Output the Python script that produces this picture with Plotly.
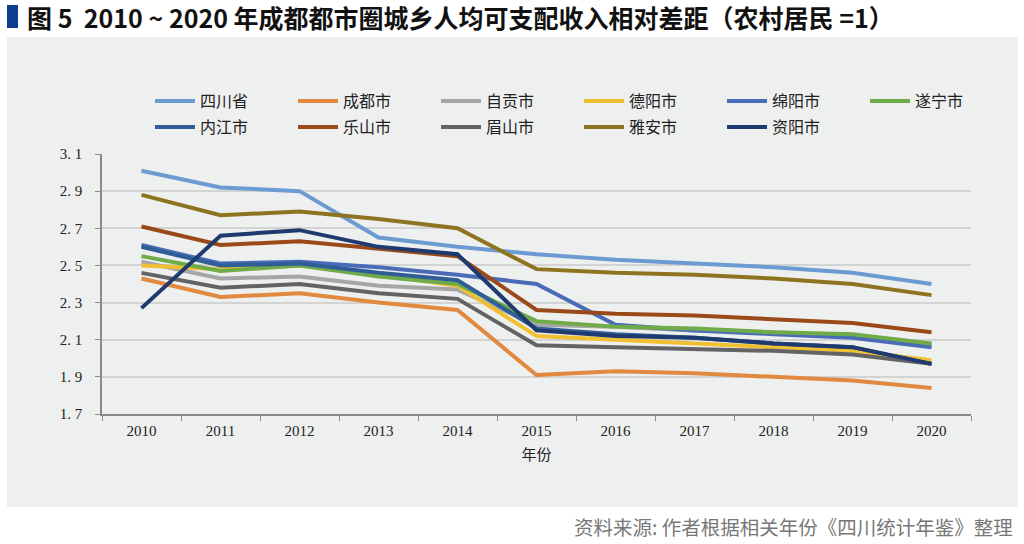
import plotly.graph_objects as go

years = ["2010", "2011", "2012", "2013", "2014", "2015", "2016", "2017", "2018", "2019", "2020"]

sichuan = [3.01, 2.92, 2.90, 2.65, 2.60, 2.56, 2.53, 2.51, 2.49, 2.46, 2.40]
chengdu = [2.43, 2.33, 2.35, 2.30, 2.26, 1.91, 1.93, 1.92, 1.90, 1.88, 1.84]
zigong = [2.52, 2.43, 2.44, 2.39, 2.37, 2.18, 2.17, 2.15, 2.14, 2.12, 2.07]
deyang = [2.50, 2.48, 2.50, 2.45, 2.39, 2.12, 2.10, 2.08, 2.06, 2.04, 1.99]
mianyang = [2.61, 2.51, 2.52, 2.49, 2.45, 2.40, 2.18, 2.15, 2.13, 2.11, 2.06]
suining = [2.55, 2.47, 2.50, 2.44, 2.40, 2.20, 2.17, 2.16, 2.14, 2.13, 2.08]
neijiang = [2.60, 2.50, 2.51, 2.46, 2.42, 2.16, 2.13, 2.11, 2.08, 2.06, 1.97]
leshan = [2.71, 2.61, 2.63, 2.59, 2.55, 2.26, 2.24, 2.23, 2.21, 2.19, 2.14]
meishan = [2.46, 2.38, 2.40, 2.35, 2.32, 2.07, 2.06, 2.05, 2.04, 2.02, 1.97]
yaan = [2.88, 2.77, 2.79, 2.75, 2.70, 2.48, 2.46, 2.45, 2.43, 2.40, 2.34]
ziyang = [2.27, 2.66, 2.69, 2.60, 2.56, 2.15, 2.12, 2.11, 2.08, 2.06, 1.97]

names = ["四川省", "成都市", "自贡市", "德阳市", "绵阳市", "遂宁市",
         "内江市", "乐山市", "眉山市", "雅安市", "资阳市"]
series = [sichuan, chengdu, zigong, deyang, mianyang, suining,
          neijiang, leshan, meishan, yaan, ziyang]
colors = ["#6C9BD1", "#E0893F", "#A6A6A6", "#EFC132", "#4A6CB8", "#70AB4A",
          "#2F5E96", "#9A4A19", "#636363", "#8E7420", "#1F3A6E"]

y_ticks = [1.7, 1.9, 2.1, 2.3, 2.5, 2.7, 2.9, 3.1]
y_labels = ["1. 7", "1. 9", "2. 1", "2. 3", "2. 5", "2. 7", "2. 9", "3. 1"]

title_text = "图 5\u00a0\u00a02010\u00a0~\u00a02020 年成都都市圈城乡人均可支配收入相对差距（农村居民 =1）"
source_text = "资料来源: 作者根据相关年份《四川统计年鉴》整理"

L, R, T, B = 102, 53, 154, 130
W, H = 1024, 544
pw = W - L - R
ph = H - T - B


def px(xp):
    return (xp - L) / pw


def py(yp):
    return (H - B - yp) / ph


fig = go.Figure()
for i, (n, s, c) in enumerate(zip(names, series, colors)):
    fig.add_trace(go.Scatter(x=years, y=s, name=n, mode="lines",
                             legend="legend" if i < 6 else "legend2",
                             line=dict(color=c, width=4)))

legend_common = dict(
    orientation="h", xanchor="left", yanchor="top",
    entrywidth=88, entrywidthmode="pixels",
    font=dict(family="Noto Sans CJK SC", size=16, color="#222"),
    bgcolor="rgba(0,0,0,0)", itemwidth=40,
)

fig.update_layout(
    width=W, height=H,
    margin=dict(l=L, r=R, t=T, b=B),
    paper_bgcolor="white",
    plot_bgcolor="rgba(0,0,0,0)",
    showlegend=True,
    legend=dict(x=px(150), y=py(84), **legend_common),
    legend2=dict(x=px(150), y=py(110), **legend_common),
    xaxis=dict(
        type="category",
        range=[-0.5, 10.5],
        showline=True, linecolor="#8a8a8a", linewidth=1.5,
        ticks="outside", tickson="boundaries", ticklen=5, tickcolor="#8a8a8a",
        showgrid=False,
        tickfont=dict(family="Liberation Serif", size=15, color="#222"),
        ticklabelstandoff=2,
        title=dict(text="年份", font=dict(family="Noto Sans CJK SC", size=15, color="#222"),
                   standoff=12),
    ),
    yaxis=dict(
        range=[1.7, 3.1],
        tickvals=y_ticks, ticktext=y_labels,
        showline=True, linecolor="#8a8a8a", linewidth=1.5,
        ticks="outside", ticklen=5, tickcolor="#8a8a8a",
        showgrid=True, gridcolor="#d2d3d3", gridwidth=1.5,
        zeroline=False,
        tickfont=dict(family="Liberation Serif", size=15, color="#222"),
        ticklabelstandoff=10,
    ),
    shapes=[
        dict(type="rect", xref="paper", yref="paper", layer="below",
             x0=px(7), x1=px(1018), y0=py(507), y1=py(37),
             fillcolor="#EEEFEF", line=dict(width=0)),
        dict(type="rect", xref="paper", yref="paper",
             x0=px(7), x1=px(18), y0=py(28), y1=py(5),
             fillcolor="#0E3D8E", line=dict(width=0)),
    ],
    annotations=[
        dict(text=title_text, xref="paper", yref="paper", x=px(25), y=py(17),
             xanchor="left", yanchor="middle", showarrow=False,
             font=dict(family="Noto Sans CJK SC", size=25, color="#111", weight="bold")),
        dict(text=source_text, xref="paper", yref="paper", x=px(1015), y=py(526),
             xanchor="right", yanchor="middle", showarrow=False,
             font=dict(family="Noto Sans CJK SC", size=19.5, color="#777")),
    ],
)

fig.write_html("out.html",
               config={"displayModeBar": False},
               post_script="document.body.style.margin='0';document.body.style.overflow='hidden';")
